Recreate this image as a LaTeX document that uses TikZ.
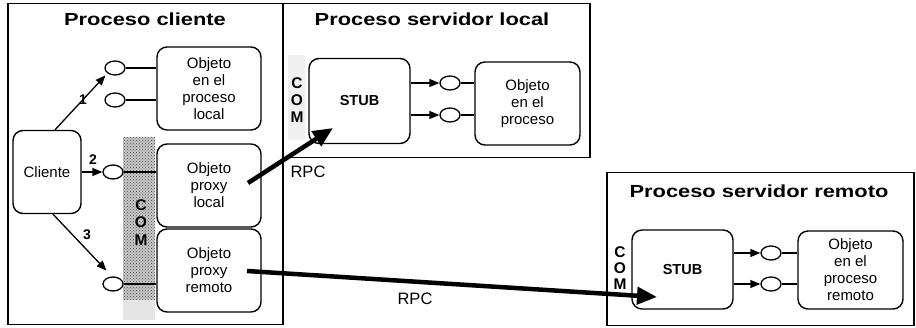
\documentclass[tikz,border=0pt]{standalone}
\usepackage{fontspec}
\setmainfont{Liberation Sans}
\newfontfamily\titlef{Liberation Sans}[FakeStretch=1.25]
\usetikzlibrary{arrows.meta,shapes.geometric,calc,patterns}
\begin{document}
\begin{tikzpicture}[x=1pt,y=-1pt,
  outerbox/.style={draw,line width=1.5pt,anchor=north west,inner sep=0pt},
  rbox/.style={draw,line width=1.4pt,rounded corners=10pt,align=center,inner sep=0pt,
     font=\fontsize{15}{17}\selectfont},
  port/.style={draw,ellipse,line width=1.3pt,minimum width=20pt,minimum height=14pt,inner sep=0pt},
  ttl/.style={font=\titlef\bfseries\fontsize{17.5}{20}\selectfont},
  comlbl/.style={font=\bfseries\fontsize{15.5}{17}\selectfont,inner sep=0pt},
  numlbl/.style={font=\bfseries\fontsize{14}{16}\selectfont,inner sep=0pt},
  rpclbl/.style={font=\fontsize{16.5}{19}\selectfont,inner sep=0pt},
  conn/.style={line width=1.3pt},
  sarrow/.style={line width=1.3pt,-{Triangle[length=10pt,width=8pt]}},
  bigarrow/.style={line width=4.5pt,-{Triangle[length=20pt,width=17pt]}}]
\useasboundingbox (0,0) rectangle (916,328);
\fill[white] (0,0) rectangle (916,328);

% stippled COM areas
\fill[black!22] (123,137) rectangle (155,300);
\fill[pattern=crosshatch dots,pattern color=black!70] (123,137) rectangle (155,300);
\fill[black!10] (123,300) rectangle (155,320);
\fill[black!6] (288,55) rectangle (305,140);

% outer process boxes
\node[outerbox,minimum width=275pt,minimum height=321pt] (pc) at (7,3) {};
\node[outerbox,minimum width=307pt,minimum height=154pt] (psl) at (282,3) {};
\node[outerbox,minimum width=307pt,minimum height=153pt] (psr) at (606,172) {};

% titles
\node[ttl] (t1) at (145,19) {Proceso cliente};
\node[ttl] (t2) at (432,19) {Proceso servidor local};
\node[ttl] (t3) at (759,191) {Proceso servidor remoto};

% client process
\node[rbox,minimum width=68pt,minimum height=83pt] (cl) at (47,172) {Cliente};
\node[rbox,minimum width=104pt,minimum height=83pt] (ol) at (209,88.5) {Objeto\\en el\\proceso\\local};
\node[rbox,minimum width=104pt,minimum height=83pt] (pl) at (209,185.5) {Objeto\\proxy\\local};
\node[rbox,minimum width=104pt,minimum height=83pt] (pr) at (209,270.5) {Objeto\\proxy\\remoto};

\node[port,fill=white] (c1) at (115,68) {};
\node[port,fill=white] (c2) at (115,100) {};
\node[port,fill=white] (c3) at (113,172) {};
\node[port,fill=white] (c4) at (113,284) {};

\draw[conn] (c1.east) -- (ol.west |- c1.east);
\draw[conn] (c2.east) -- (ol.west |- c2.east);
\draw[conn] (c3.east) -- (pl.west |- c3.east);
\draw[conn] (c4.east) -- (pr.west |- c4.east);

\node[comlbl] (com1c) at (141,205) {C};
\node[comlbl] (com1o) at (141,222) {O};
\node[comlbl] (com1m) at (141,240) {M};

\draw[sarrow] ([xshift=8pt]cl.north) -- ($(c1.south west)+(-2,2)$);
\draw[sarrow] (cl.east) -- (c3.west);
\draw[sarrow] ([xshift=6pt]cl.south) -- ($(c4.north west)+(1,-8)$);
\node[numlbl] (n1) at (83,100) {1};
\node[numlbl] (n2) at (93,160) {2};
\node[numlbl] (n3) at (87,235) {3};

% local server process
\node[rbox,font=\bfseries\fontsize{14.5}{17}\selectfont,minimum width=101pt,minimum height=85pt] (s1) at (359.5,101) {STUB};
\node[rbox,minimum width=105pt,minimum height=83pt] (o2) at (527.5,103.5) {Objeto\\en el\\proceso};
\node[port] (c5) at (450,83) {};
\node[port] (c6) at (450,115) {};
\draw[sarrow] (s1.east |- c5.west) -- (c5.west);
\draw[sarrow] (s1.east |- c6.west) -- (c6.west);
\draw[conn] (c5.east) -- (o2.west |- c5.east);
\draw[conn] (c6.east) -- (o2.west |- c6.east);
\node[comlbl] (com2c) at (297,83) {C};
\node[comlbl] (com2o) at (297,100) {O};
\node[comlbl] (com2m) at (297,117) {M};

% remote server process
\node[rbox,font=\bfseries\fontsize{14.5}{17}\selectfont,minimum width=101pt,minimum height=79pt] (s2) at (682.5,269.5) {STUB};
\node[rbox,minimum width=105pt,minimum height=78pt] (o3) at (850.5,270) {Objeto\\en el\\proceso\\remoto};
\node[port] (c7) at (771,253) {};
\node[port] (c8) at (771,284) {};
\draw[sarrow] (s2.east |- c7.west) -- (c7.west);
\draw[sarrow] (s2.east |- c8.west) -- (c8.west);
\draw[conn] (c7.east) -- (o3.west |- c7.east);
\draw[conn] (c8.east) -- (o3.west |- c8.east);
\node[comlbl] (com3c) at (620,252) {C};
\node[comlbl] (com3o) at (620,268) {O};
\node[comlbl] (com3m) at (620,284) {M};

% RPC arrows
\coordinate (r1s) at (248,183);
\coordinate (r1e) at (333,128);
\coordinate (r2s) at (247,271);
\coordinate (r2e) at (657,297);
\draw[bigarrow] (r1s) -- (r1e);
\draw[bigarrow] (r2s) -- (r2e);
\node[rpclbl] (rpc1) at (308,172) {RPC};
\node[rpclbl] (rpc2) at (415,299) {RPC};
\end{tikzpicture}
\end{document}
